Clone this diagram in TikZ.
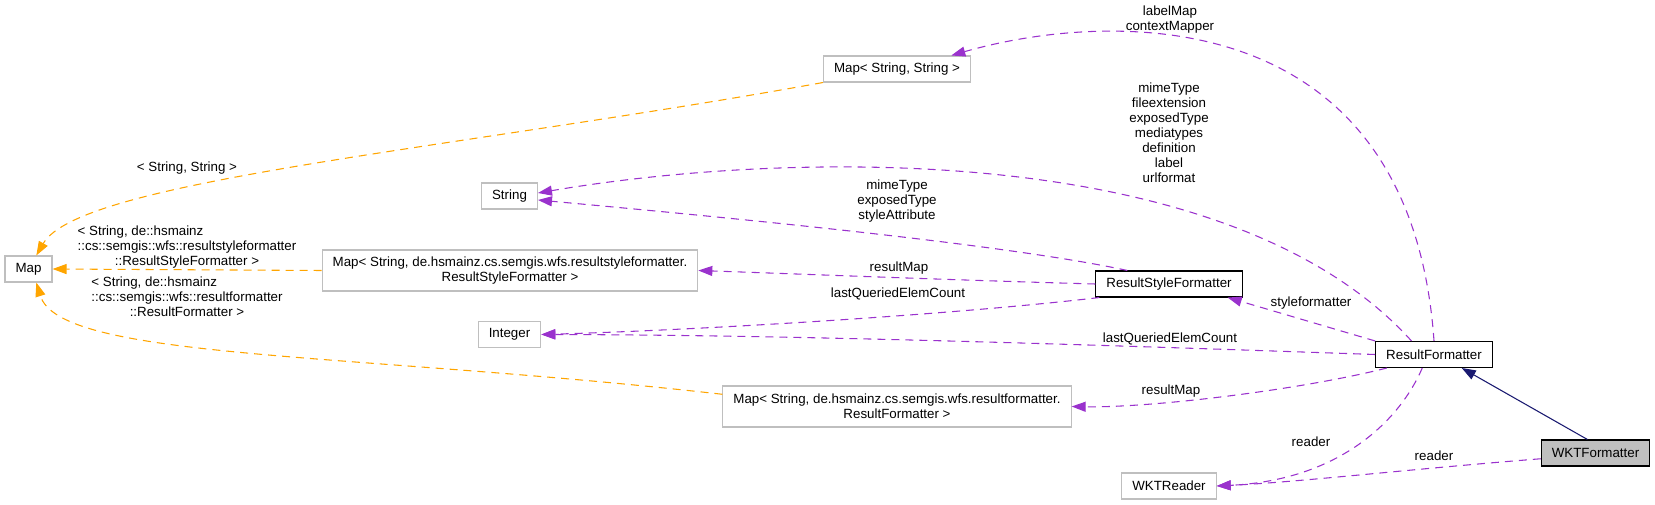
\documentclass[tikz,border=0pt]{standalone}
\usepackage{fontspec}
\setmainfont{Liberation Sans}
\usepackage{calc}
\usepackage[dvipsnames]{xcolor}
\usetikzlibrary{arrows.meta}
\definecolor{dxpurple}{HTML}{9A32CD}
\definecolor{dxorange}{HTML}{FFA500}
\definecolor{dxnavy}{HTML}{191970}
\definecolor{dxgrey}{HTML}{BFBFBF}

\begin{document}
\begin{tikzpicture}[x=0.75pt,y=-0.75pt,>={Triangle[length=10.5pt,width=7.5pt]},font=\fontsize{10}{11.25}\selectfont,
    class node/.style={rectangle,draw=dxgrey,line width=0.8pt,align=center,inner xsep=7.9pt,inner ysep=2pt,minimum height=19.5pt},
    main node/.style={class node,draw=black},
    edge label/.style={inner sep=0pt,align=center},
    uses/.style={->,dxpurple,line width=0.8pt,dash pattern=on 6pt off 4.5pt},
    tmpl/.style={->,dxorange,line width=0.8pt,dash pattern=on 6pt off 4.5pt},
    inherits/.style={->,dxnavy,line width=0.8pt}]

            \useasboundingbox (0,0) rectangle (1655,505);

            \node[class node] (map) at (28.5,269) {Map};
            \node[class node] (string) at (509.5,196) {String};
            \node[class node] (mapss) at (897,69) {Map< String, String >};
            \node[class node, minimum height=30.75pt] (maprsf) at (510,270.5) {Map< String, de.hsmainz.cs.semgis.wfs.resultstyleformatter.\\ResultStyleFormatter >};
            \node[class node] (integer) at (509.5,334.5) {Integer};
            \node[class node, minimum height=30.75pt] (maprf) at (897,406.5) {Map< String, de.hsmainz.cs.semgis.wfs.resultformatter.\\ResultFormatter >};
            \node[class node] (wktreader) at (1169,486) {WKTReader};
            \node[main node] (rsf) at (1169,284) {ResultStyleFormatter};
            \node[main node] (rf) at (1434,354.5) {ResultFormatter};
            \node[main node, fill=dxgrey] (wktf) at (1595.5,453) {WKTFormatter};

            % template arguments
            \draw[tmpl] (mapss.south west) .. controls (450,150) and (80,180) .. (map.60);
            \draw[tmpl] (maprsf.west) -- (map.east);
            \draw[tmpl] (maprf.176) .. controls (350,352) and (60,360) .. (map.-60);

            % members
            \draw[uses] (rf.north) .. controls (1410,0) and (1110,10) .. (mapss.14);
            \draw[uses] (rf.149) .. controls (1230,140) and (790,150) .. (string.6);
            \draw[uses] (rsf.162) .. controls (1000,243) and (700,215) .. (string.-8);
            \draw[uses] (rsf.west) .. controls (950,280) and (800,274) .. (maprsf.east);
            \draw[uses] (rsf.-169) .. controls (950,315) and (700,330) .. (integer.east);
            \draw[uses] (rf.west) .. controls (1100,345) and (800,335) .. (integer.east);
            \draw[uses] (rf.north west) -- (rsf.-13);
            \draw[uses] (rf.-164) .. controls (1300,390) and (1150,408) .. (maprf.east);
            \draw[uses] (rf.-131) .. controls (1400,420) and (1340,480) .. (wktreader.east);
            \draw[uses] (wktf.-174) .. controls (1400,470) and (1300,482) .. (wktreader.east);

            \draw[inherits] (wktf.121) -- (rf.-26);

            \node[edge label] (l1) at (187,168) {< String, String >};
            \node[edge label] (l2) at (187,247) {\makebox[\widthof{::cs::semgis::wfs::resultstyleformatter}][l]{< String, de::hsmainz}\\::cs::semgis::wfs::resultstyleformatter\\::ResultStyleFormatter >};
            \node[edge label] (l3) at (187,297) {\makebox[\widthof{::cs::semgis::wfs::resultformatter}][l]{< String, de::hsmainz}\\::cs::semgis::wfs::resultformatter\\::ResultFormatter >};
            \node[edge label] (l4) at (1170,20) {labelMap\\contextMapper};
            \node[edge label] (l5) at (1169,133) {mimeType\\fileextension\\exposedType\\mediatypes\\definition\\label\\urlformat};
            \node[edge label] (l6) at (897,201) {mimeType\\exposedType\\styleAttribute};
            \node[edge label] (l7) at (899,268) {resultMap};
            \node[edge label] (l8) at (898,294) {lastQueriedElemCount};
            \node[edge label] (l9) at (1311,303) {styleformatter};
            \node[edge label] (l10) at (1170,339) {lastQueriedElemCount};
            \node[edge label] (l11) at (1171,391) {resultMap};
            \node[edge label] (l12) at (1311,442) {reader};
            \node[edge label] (l13) at (1434,456) {reader};

            ;
        \end{tikzpicture}
\end{document}
